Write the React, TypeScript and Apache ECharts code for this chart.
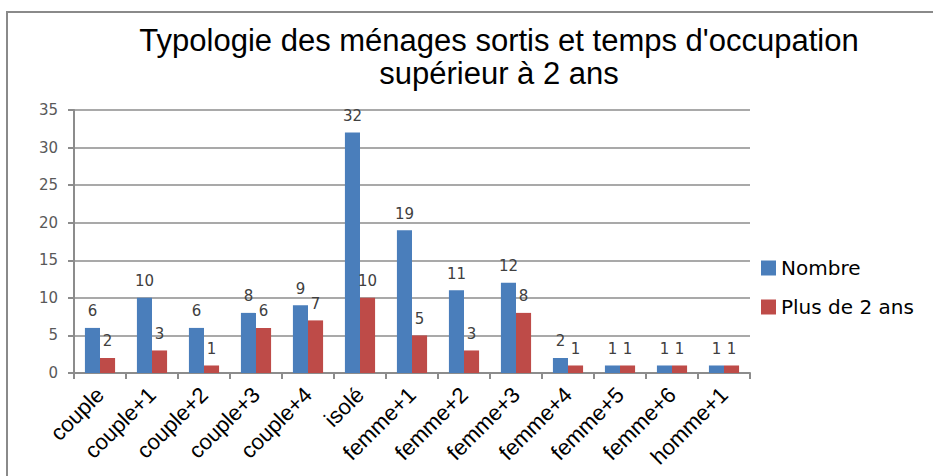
import React, { useEffect, useRef } from "react";
import * as echarts from "echarts";

const categories = ["couple", "couple+1", "couple+2", "couple+3", "couple+4", "isolé", "femme+1", "femme+2", "femme+3", "femme+4", "femme+5", "femme+6", "homme+1"];
const nombre = [6, 10, 6, 8, 9, 32, 19, 11, 12, 2, 1, 1, 1];
const plusDe2Ans = [2, 3, 1, 6, 7, 10, 5, 3, 8, 1, 1, 1, 1];
const yTicks = { min: 0, max: 35, interval: 5 };
const titleText = "Typologie des ménages sortis et temps d'occupation\nsupérieur à 2 ans";
const seriesNames = ["Nombre", "Plus de 2 ans"];

export default function App() {
  const ref = useRef<HTMLDivElement>(null);
  useEffect(() => {
    if (!ref.current) return;
    const chart = echarts.init(ref.current, null, { renderer: "svg" });
    const labelStyle = {
      show: true,
      position: "top" as const,
      distance: 9,
      color: "#404040",
      fontSize: 15,
      fontFamily: "DejaVu Sans",
    };
    chart.setOption({
      animation: false,
      backgroundColor: "#ffffff",
      title: {
        text: titleText,
        left: 494,
        textAlign: "center",
        top: 19,
        textStyle: {
          fontFamily: "Liberation Sans",
          fontSize: 31,
          fontWeight: "normal",
          color: "#000000",
          lineHeight: 33,
        },
      },
      graphic: [
        {
          type: "rect",
          shape: { x: 7, y: 12, width: 940, height: 480 },
          style: { fill: "none", stroke: "#8a8a8a", lineWidth: 2 },
          silent: true,
        },
      ],
      legend: {
        orient: "vertical",
        left: 761,
        top: 258,
        padding: 0,
        itemWidth: 15,
        itemHeight: 15,
        itemGap: 19,
        icon: "rect",
        textStyle: { fontFamily: "DejaVu Sans", fontSize: 20, color: "#000000" },
        data: seriesNames,
      },
      grid: { left: 74, right: 183, top: 110, bottom: 103 },
      xAxis: {
        type: "category",
        data: categories,
        axisLine: { lineStyle: { color: "#8c8c8c", width: 2 } },
        axisTick: { show: true, length: 6, lineStyle: { color: "#8c8c8c", width: 2 } },
        axisLabel: {
          rotate: 45,
          interval: 0,
          color: "#000000",
          fontSize: 22,
          fontFamily: "Liberation Sans",
          margin: 18,
        },
      },
      yAxis: {
        type: "value",
        min: yTicks.min,
        max: yTicks.max,
        interval: yTicks.interval,
        axisLine: { show: true, lineStyle: { color: "#8c8c8c", width: 2 } },
        axisTick: { show: true, length: 6, lineStyle: { color: "#8c8c8c", width: 2 } },
        splitLine: { lineStyle: { color: "#8c8c8c", width: 1.5 } },
        axisLabel: { color: "#595959", fontSize: 15, fontFamily: "DejaVu Sans", margin: 16 },
      },
      series: [
        {
          name: seriesNames[0],
          type: "bar",
          data: nombre,
          itemStyle: { color: "#4a7ebb" },
          barGap: "0%",
          barCategoryGap: "42%",
          label: labelStyle,
        },
        {
          name: seriesNames[1],
          type: "bar",
          data: plusDe2Ans,
          itemStyle: { color: "#be4b48" },
          barGap: "0%",
          barCategoryGap: "42%",
          label: labelStyle,
        },
      ],
    });
    return () => chart.dispose();
  }, []);
  return (
    <div
      ref={ref}
      style={{ position: "fixed", left: 0, top: 0, width: 933, height: 476 }}
    />
  );
}
